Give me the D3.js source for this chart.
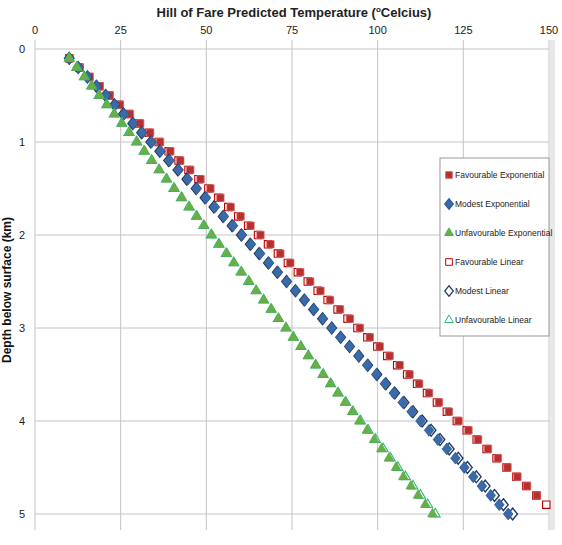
<!DOCTYPE html>
<html><head><meta charset="utf-8">
<script src="https://d3js.org/d3.v7.min.js"></script>
<style>body{margin:0;background:#fff}</style></head>
<body><svg id="c" width="562" height="545"></svg>
<script>
const depths = [0.1,0.2,0.3,0.4,0.5,0.6,0.7,0.8,0.9,1.0,1.1,1.2,1.3,1.4,1.5,1.6,1.7,1.8,1.9,2.0,2.1,2.2,2.3,2.4,2.5,2.6,2.7,2.8,2.9,3.0,3.1,3.2,3.3,3.4,3.5,3.6,3.7,3.8,3.9,4.0,4.1,4.2,4.3,4.4,4.5,4.6,4.7,4.8,4.9,5.0];
const favExp = [10.0,13.0,15.9,18.9,21.8,24.8,27.7,30.7,33.6,36.5,39.5,42.4,45.3,48.3,51.2,54.1,57.1,60.0,62.9,65.8,68.7,71.6,74.5,77.4,80.3,83.3,86.1,89.0,91.9,94.8,97.7,100.6,103.5,106.4,109.3,112.1,115.0,117.9,120.8,123.6,126.5,129.3,132.2,135.1,137.9,140.8,143.6,146.5];
const modExp = [10,12.7,15.3,18.0,20.7,23.3,26.0,28.7,31.3,34.0,36.6,39.3,41.9,44.6,47.2,49.9,52.5,55.1,57.8,60.4,63.0,65.7,68.3,70.9,73.5,76.1,78.7,81.4,84.0,86.6,89.2,91.8,94.4,97.0,99.6,102.1,104.7,107.3,109.9,112.5,115.0,117.6,120.2,122.7,125.3,127.9,130.4,133.0,135.5,138.1];
const unfExp = [10,12.2,14.4,16.6,18.8,21.0,23.2,25.4,27.6,29.8,32.0,34.2,36.3,38.5,40.7,42.9,45.1,47.3,49.4,51.6,53.8,56.0,58.1,60.3,62.5,64.6,66.8,69.0,71.1,73.3,75.4,77.6,79.7,81.9,84.0,86.2,88.3,90.5,92.6,94.7,96.9,99.0,101.1,103.3,105.4,107.5,109.7,111.8,113.9,116.0];
const favLin = [10,12.9,15.8,18.7,21.6,24.5,27.4,30.3,33.2,36.1,39,41.9,44.8,47.7,50.6,53.5,56.4,59.3,62.2,65.1,68,70.9,73.8,76.7,79.6,82.5,85.4,88.3,91.2,94.1,97,99.9,102.8,105.7,108.6,111.5,114.4,117.3,120.2,123.1,126,128.9,131.8,134.7,137.6,140.5,143.4,146.3,149.2];
const modLin = [10,12.6,15.3,17.9,20.6,23.2,25.8,28.5,31.1,33.8,36.4,39.0,41.7,44.3,47.0,49.6,52.2,54.9,57.5,60.2,62.8,65.4,68.1,70.7,73.4,76.0,78.6,81.3,83.9,86.6,89.2,91.8,94.5,97.1,99.8,102.4,105.0,107.7,110.3,113.0,115.6,118.2,120.9,123.5,126.2,128.8,131.4,134.1,136.7,139.4];
const unfLin = [10,12.2,14.4,16.5,18.7,20.9,23.1,25.3,27.4,29.6,31.8,34.0,36.2,38.3,40.5,42.7,44.9,47.1,49.2,51.4,53.6,55.8,58.0,60.1,62.3,64.5,66.7,68.9,71.0,73.2,75.4,77.6,79.8,81.9,84.1,86.3,88.5,90.7,92.8,95.0,97.2,99.4,101.6,103.7,105.9,108.1,110.3,112.5,114.6,116.8];
const xTicks = [0,25,50,75,100,125,150];
const yTicks = [0,1,2,3,4,5];
const seriesNames = ["Favourable Exponential","Modest Exponential","Unfavourable Exponential","Favourable Linear","Modest Linear","Unfavourable Linear"];

const svg = d3.select("#c");
const font = "'Liberation Sans Narrow','Liberation Sans',Arial,sans-serif";
const x = d3.scaleLinear().domain([0,150]).range([35,549]);
const y = d3.scaleLinear().domain([0,5]).range([49,514]);

svg.append("rect").attr("x",550).attr("y",40).attr("width",5).attr("height",490).attr("fill","#e8e8e8");
const g = svg.append("g");
g.selectAll(".hg").data(yTicks).join("line").attr("x1",35).attr("x2",549).attr("y1",d=>y(d)).attr("y2",d=>y(d)).attr("stroke","#c4c4c4");
g.selectAll(".vg").data(xTicks).join("line").attr("y1",40).attr("y2",530).attr("x1",d=>x(d)).attr("x2",d=>x(d)).attr("stroke","#c4c4c4");

svg.selectAll(".xt").data(xTicks).join("text").attr("x",d=>x(d)).attr("y",34).attr("text-anchor","middle")
  .attr("font-family",font).attr("font-size",11).attr("fill","#222").text(d=>d);
svg.selectAll(".yt").data(yTicks).join("text").attr("x",22).attr("y",d=>y(d)+4).attr("text-anchor","middle")
  .attr("font-family",font).attr("font-size",11).attr("fill","#222").text(d=>d);

const t = svg.append("text").attr("x",294).attr("y",17).attr("text-anchor","middle").attr("font-family",font).attr("font-size",13).attr("font-weight","bold").attr("fill","#222");
t.append("tspan").text("Hill of Fare Predicted Temperature (");
t.append("tspan").attr("dy",-5).attr("font-size",8).text("o");
t.append("tspan").attr("dy",5).text("Celcius)");
svg.append("text").attr("transform","translate(11,290) rotate(-90)").attr("text-anchor","middle").attr("font-family",font)
  .attr("font-size",12).attr("font-weight","bold").attr("fill","#111").text("Depth below surface (km)");

const styles = [
 {type:d3.symbolSquare,size:55,fill:"#b5302f",stroke:"#d46a6a",sx:1},
 {type:d3.symbolDiamond,size:40,fill:"#3a6aa8",stroke:"#2d5a94",sx:1.4},
 {type:d3.symbolTriangle,size:42,fill:"#6aae45",stroke:"#4caf50",sx:1},
 {type:d3.symbolSquare,size:55,fill:"#fff",stroke:"#c00000",sx:1},
 {type:d3.symbolDiamond,size:40,fill:"#fff",stroke:"#1f3864",sx:1.4},
 {type:d3.symbolTriangle,size:42,fill:"#fff",stroke:"#2eb872",sx:1}
];
const data = [favExp,modExp,unfExp,favLin,modLin,unfLin];
const order = [3,0,4,1,5,2];
order.forEach(k=>{
  const s = styles[k];
  svg.append("g").selectAll("path").data(data[k]).join("path")
    .attr("transform",(v,i)=>`translate(${x(v)},${y(depths[i])}) scale(${s.sx},1)`)
    .attr("d",d3.symbol().type(s.type).size(s.size))
    .attr("fill",s.fill).attr("stroke",s.stroke).attr("stroke-width",k>=3?1.1:0.7);
});

const lg = svg.append("g");
lg.append("rect").attr("x",440).attr("y",158).attr("width",109).attr("height",178).attr("fill","#fff").attr("stroke","#999");
seriesNames.forEach((n,k)=>{
  const yy = 175 + k*29;
  const s = styles[k];
  lg.append("path").attr("transform",`translate(449,${yy}) scale(${s.sx},1)`).attr("d",d3.symbol().type(s.type).size(s.size*0.8))
    .attr("fill",s.fill).attr("stroke",s.stroke).attr("stroke-width",1);
  lg.append("text").attr("x",455).attr("y",yy+3).attr("font-family",font).attr("font-size",8.5).attr("fill","#222").text(n);
});
</script></body></html>
